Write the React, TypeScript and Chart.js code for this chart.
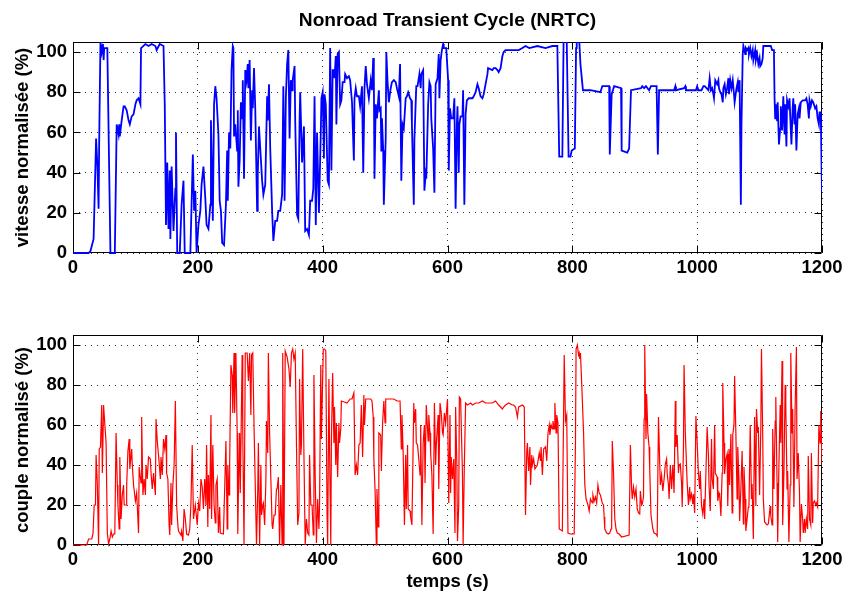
import React, { useEffect, useRef } from "react";
import { Chart, registerables } from "chart.js";
Chart.register(...registerables);

const chartTitle = "Nonroad Transient Cycle (NRTC)";
const speedLabel = "vitesse normalisée (%)";
const torqueLabel = "couple normalisé (%)";
const timeLabel = "temps (s)";
const xTicks = [0, 200, 400, 600, 800, 1000, 1200];
const yTicks = [0, 20, 40, 60, 80, 100];

const speedTime = [
  0, 25, 28, 33, 37, 39, 41, 42, 44, 46, 48, 49,
  50, 55, 60, 67, 70, 73, 74, 75, 78, 81, 83, 86,
  89, 91, 94, 97, 100, 102, 105, 108, 109, 116, 121, 126,
  132, 134, 139, 145, 147, 149, 151, 153, 155, 156, 158, 161,
  164, 165, 167, 171, 174, 177, 179, 188, 192, 194, 196, 198,
  201, 204, 206, 209, 212, 214, 217, 220, 221, 224, 226, 228,
  230, 233, 235, 237, 239, 242, 245, 247, 248, 250, 252, 254,
  256, 257, 258, 260, 263, 264, 265, 267, 269, 271, 272, 274,
  276, 278, 280, 281, 283, 285, 287, 288, 290, 292, 295, 296,
  298, 300, 303, 305, 308, 311, 312, 314, 316, 319, 321, 324,
  327, 329, 332, 335, 337, 339, 341, 343, 345, 347, 349, 351,
  352, 355, 356, 359, 361, 363, 364, 367, 370, 372, 375, 378,
  380, 383, 385, 387, 389, 391, 394, 397, 398, 400, 402, 403,
  405, 408, 410, 412, 414, 416, 418, 419, 421, 422, 424, 426,
  428, 430, 432, 435, 436, 439, 442, 444, 447, 450, 451, 453,
  455, 458, 460, 463, 465, 467, 469, 471, 474, 477, 479, 481,
  482, 483, 485, 487, 490, 491, 493, 494, 495, 497, 498, 501,
  502, 504, 506, 509, 511, 514, 517, 519, 522, 524, 526, 528,
  530, 533, 535, 537, 540, 542, 543, 546, 547, 550, 552, 555,
  557, 558, 561, 563, 565, 566, 569, 571, 573, 574, 577, 579,
  581, 584, 586, 587, 589, 591, 593, 594, 598, 601, 602, 604,
  606, 609, 611, 613, 615, 616, 618, 619, 621, 624, 625, 627,
  629, 631, 634, 640, 642, 645, 648, 650, 653, 656, 658, 661,
  664, 665, 672, 674, 677, 680, 682, 685, 688, 690, 693, 698,
  704, 709, 714, 720, 725, 731, 744, 757, 768, 776, 779, 784,
  786, 791, 794, 797, 799, 804, 806, 807, 811, 813, 817, 824,
  829, 845, 848, 859, 860, 863, 865, 867, 878, 879, 888, 891,
  894, 910, 912, 915, 918, 923, 926, 935, 937, 939, 963, 965,
  966, 979, 981, 982, 998, 1000, 1002, 1007, 1010, 1012, 1015, 1018,
  1020, 1022, 1024, 1026, 1027, 1029, 1032, 1034, 1035, 1037, 1039, 1041,
  1042, 1044, 1046, 1048, 1050, 1051, 1053, 1055, 1057, 1059, 1060, 1063,
  1065, 1066, 1068, 1070, 1071, 1073, 1074, 1077, 1078, 1080, 1082, 1083,
  1085, 1087, 1089, 1090, 1093, 1094, 1096, 1098, 1100, 1101, 1103, 1105,
  1106, 1118, 1120, 1123, 1124, 1125, 1126, 1128, 1129, 1131, 1133, 1134,
  1136, 1138, 1140, 1141, 1143, 1144, 1146, 1148, 1149, 1151, 1153, 1154,
  1156, 1157, 1159, 1161, 1163, 1164, 1166, 1169, 1173, 1175, 1177, 1179,
  1180, 1182, 1184, 1186, 1189, 1191, 1193, 1195, 1196, 1198, 1200,
];
const speedValue = [
  0, 0, 1, 7, 57, 44, 22, 57, 105, 100, 104, 96,
  102, 102, 0, 0, 64, 59, 64, 58, 66, 73, 73, 71,
  66, 64, 68, 69, 74, 76, 77, 74, 102, 104, 103, 104,
  103, 101, 104, 103, 74, 14, 45, 12, 41, 7, 43, 11,
  32, 60, 0, 0, 24, 36, 0, 0, 49, 21, 31, 0,
  14, 21, 34, 43, 27, 14, 12, 24, 66, 16, 74, 83,
  77, 59, 26, 21, 5, 4, 24, 51, 26, 60, 52, 91,
  103, 102, 58, 64, 51, 71, 33, 46, 75, 67, 86, 37,
  91, 86, 94, 82, 96, 56, 81, 72, 92, 72, 21, 39,
  63, 52, 36, 29, 34, 78, 66, 84, 52, 21, 6, 16,
  16, 21, 21, 29, 83, 26, 77, 94, 101, 57, 86, 81,
  86, 93, 66, 19, 17, 66, 80, 45, 63, 11, 12, 9,
  26, 26, 32, 78, 14, 60, 20, 60, 77, 80, 47, 79,
  74, 36, 34, 102, 41, 91, 91, 87, 98, 64, 99, 100,
  74, 76, 85, 85, 89, 87, 88, 86, 75, 46, 77, 82,
  78, 78, 73, 83, 40, 82, 93, 84, 77, 86, 81, 97,
  87, 37, 74, 67, 81, 71, 72, 51, 67, 51, 24, 57,
  100, 85, 75, 82, 85, 86, 85, 82, 78, 94, 36, 64,
  62, 77, 78, 80, 77, 76, 64, 24, 57, 83, 83, 89,
  82, 89, 91, 31, 39, 37, 74, 85, 83, 67, 52, 30,
  84, 87, 99, 77, 96, 101, 104, 102, 102, 86, 41, 72,
  67, 67, 77, 22, 64, 73, 40, 64, 68, 68, 81, 24,
  69, 76, 77, 77, 78, 80, 84, 82, 78, 77, 79, 84,
  89, 92, 91, 92, 92, 91, 90, 92, 98, 100, 101, 101,
  101, 101, 101, 102, 103, 102, 103, 102, 103, 103, 48, 48,
  106, 106, 48, 48, 51, 52, 102, 106, 106, 94, 81, 81,
  81, 80, 83, 83, 49, 79, 81, 83, 82, 51, 50, 52,
  81, 82, 83, 82, 83, 81, 83, 83, 49, 81, 81, 83,
  81, 82, 83, 81, 81, 83, 81, 81, 83, 83, 82, 81,
  87, 81, 82, 79, 77, 86, 84, 86, 82, 80, 79, 75,
  82, 84, 79, 82, 87, 79, 86, 82, 86, 79, 75, 82,
  85, 80, 86, 24, 64, 99, 103, 99, 102, 101, 102, 99,
  102, 98, 101, 96, 101, 96, 99, 94, 97, 93, 94, 97,
  103, 103, 101, 101, 77, 67, 74, 66, 75, 54, 62, 73,
  61, 78, 59, 74, 53, 76, 73, 77, 69, 54, 72, 77,
  64, 74, 51, 69, 72, 67, 75, 76, 76, 77, 74, 67,
  76, 73, 76, 75, 72, 73, 67, 64, 70, 70, 30,
];

const torqueTime = [
  0, 22, 25, 30, 32, 34, 36, 37, 39, 41, 42, 44,
  46, 47, 49, 50, 53, 55, 57, 59, 61, 63, 65, 67,
  69, 71, 72, 74, 75, 77, 79, 81, 82, 85, 86, 88,
  90, 91, 94, 95, 97, 100, 102, 105, 106, 109, 110, 112,
  114, 116, 117, 119, 121, 124, 125, 127, 129, 132, 133, 135,
  137, 140, 141, 143, 145, 147, 149, 150, 152, 154, 155, 157,
  158, 160, 162, 164, 166, 168, 169, 173, 174, 176, 178, 180,
  182, 185, 187, 189, 191, 193, 196, 199, 201, 203, 205, 207,
  209, 211, 213, 214, 216, 217, 219, 221, 222, 224, 226, 228,
  229, 231, 233, 235, 236, 241, 243, 245, 247, 248, 250, 251,
  253, 255, 256, 258, 259, 261, 263, 264, 265, 267, 268, 271,
  272, 274, 276, 279, 281, 283, 285, 286, 288, 290, 291, 294,
  296, 297, 299, 301, 302, 304, 305, 307, 309, 310, 312, 313,
  315, 317, 319, 320, 322, 324, 326, 327, 329, 331, 333, 335,
  336, 338, 340, 343, 346, 348, 350, 352, 354, 356, 358, 360,
  362, 363, 365, 366, 368, 370, 372, 374, 376, 378, 379, 381,
  383, 385, 386, 388, 390, 392, 394, 395, 397, 398, 401, 403,
  405, 407, 408, 410, 411, 413, 414, 416, 418, 419, 421, 422,
  424, 426, 427, 429, 430, 439, 444, 447, 450, 452, 454, 456,
  458, 460, 462, 464, 466, 467, 469, 477, 479, 481, 482, 484,
  486, 487, 489, 490, 493, 494, 496, 498, 500, 501, 514, 519,
  524, 526, 527, 529, 531, 533, 534, 536, 537, 540, 541, 543,
  546, 547, 549, 550, 552, 554, 556, 557, 559, 561, 563, 564,
  566, 569, 570, 572, 573, 575, 577, 579, 581, 582, 585, 586,
  588, 590, 592, 593, 595, 597, 598, 600, 602, 604, 605, 606,
  608, 610, 612, 613, 615, 616, 618, 619, 621, 624, 625, 627,
  629, 632, 637, 640, 645, 650, 656, 661, 666, 672, 677, 682,
  688, 690, 693, 698, 704, 706, 709, 712, 714, 720, 723, 725,
  727, 728, 730, 732, 733, 735, 736, 738, 740, 744, 747, 749,
  750, 752, 754, 757, 759, 761, 763, 764, 766, 768, 769, 771,
  772, 774, 775, 777, 779, 784, 786, 787, 789, 791, 793, 797,
  803, 805, 806, 808, 810, 811, 812, 813, 815, 818, 820, 822,
  825, 827, 829, 832, 833, 835, 837, 839, 841, 843, 845, 848,
  850, 851, 852, 855, 858, 860, 862, 863, 864, 866, 868, 870,
  872, 875, 879, 891, 893, 895, 896, 898, 900, 902, 904, 906,
  908, 909, 911, 912, 914, 915, 916, 918, 919, 921, 923, 924,
  926, 929, 931, 934, 936, 938, 940, 941, 943, 945, 947, 949,
  951, 952, 954, 955, 957, 959, 961, 963, 965, 966, 968, 970,
  971, 973, 975, 976, 978, 979, 981, 984, 986, 988, 989, 991,
  993, 994, 996, 998, 1000, 1002, 1004, 1005, 1007, 1009, 1011, 1012,
  1014, 1016, 1018, 1019, 1021, 1023, 1024, 1026, 1028, 1029, 1032, 1033,
  1035, 1036, 1038, 1040, 1041, 1043, 1044, 1046, 1048, 1049, 1051, 1052,
  1054, 1056, 1057, 1059, 1060, 1062, 1064, 1065, 1067, 1068, 1070, 1072,
  1074, 1075, 1077, 1078, 1080, 1082, 1083, 1085, 1087, 1088, 1090, 1092,
  1094, 1095, 1097, 1098, 1100, 1102, 1103, 1105, 1106, 1108, 1112, 1114,
  1117, 1118, 1120, 1121, 1123, 1125, 1126, 1128, 1129, 1131, 1133, 1134,
  1136, 1137, 1139, 1141, 1142, 1144, 1145, 1147, 1149, 1150, 1152, 1153,
  1155, 1157, 1159, 1160, 1162, 1164, 1165, 1167, 1169, 1170, 1172, 1173,
  1175, 1177, 1178, 1180, 1182, 1183, 1185, 1186, 1188, 1190, 1191, 1193,
  1195, 1197, 1198, 1200,
];
const torqueValue = [
  0, 0, 3, 3, 5.5, 20, 20, 45, 30, 0, 48, 49,
  70, 36, 70, 65, 51, 6, 0.5, 3, 7, 4, 5.5, 5.5,
  56, 30, 20, 8, 44, 13, 25, 30, 20, 20, 30, 47,
  53, 38, 48, 40, 30, 22, 26, 6, 39, 31, 64, 25,
  33, 25, 40, 33, 44, 43, 36, 28, 36, 25, 63, 52,
  45, 33, 44, 35, 53, 48, 55, 36, 33, 10, 5, 31,
  10, 30, 40, 72, 20, 10, 7, 5, 7, 2, 18, 13,
  5.5, 5, 8, 21, 50, 13, 20, 10, 21, 17, 33, 29,
  18, 33, 20, 50, 9, 35, 18, 65, 13, 50, 20, 11,
  30, 33, 6, 19, 6, 5.5, 28, 52, 8, 40, 25, 41,
  90, 85, 66, 96, 66, 96, 56, 5.5, 26, 56, 26, 95,
  56, 0, 96, 96, 82, 96, 65, 95, 96, 60, 60, 0,
  28, 51, 0, 40, 15, 20, 21, 10, 32, 62, 46, 96,
  56, 33, 10, 8, 15, 15, 28, 28, 34, 0, 30, 0,
  96, 0, 97, 94, 88, 79, 96, 98, 93, 96, 51, 10,
  16, 83, 45, 50, 98, 45, 0, 13, 6, 5, 45, 20,
  20, 5, 85, 35, 1, 23, 8, 20, 90, 53, 98, 98,
  97, 16, 0, 83, 50, 0, 53, 86, 51, 69, 40, 61,
  34, 61, 51, 58, 72, 71, 73, 73, 76, 35, 40, 35,
  50, 51, 70, 44, 75, 60, 73, 73, 72, 64, 43, 27,
  0, 28, 9, 56, 55, 37, 61, 72, 61, 73, 73, 72,
  72, 48, 65, 46, 10, 45, 18, 50, 18, 17, 14, 10,
  71, 61, 68, 51, 50, 43, 35, 60, 10, 51, 60, 31,
  70, 52, 65, 56, 46, 35, 5.5, 71, 40, 50, 65, 28,
  71, 66, 56, 55, 66, 61, 65, 73, 21, 65, 26, 44,
  33, 43, 6, 69, 40, 2, 20, 74, 73, 35, 0, 40,
  71, 70, 71, 70, 71, 71, 72, 71, 71, 71, 72, 70,
  68, 69, 70, 71, 70, 70, 69, 64, 69, 70, 69, 15,
  47, 51, 37, 49, 30, 45, 40, 43, 38, 40, 46, 42,
  49, 35, 48, 49, 42, 56, 60, 55, 60, 58, 62, 58,
  71, 56, 65, 61, 8, 7, 66, 95, 62, 65, 6, 5.5,
  5.5, 51, 98, 100, 95, 96, 93, 96, 81, 56, 30, 23,
  20, 17, 23, 21, 25, 22, 24, 21, 30, 26, 25, 21,
  20, 14, 8, 6, 5.5, 6, 8, 11, 52, 36, 13, 8,
  6, 5.5, 4, 5, 50, 28, 23, 29, 24, 28, 18, 16,
  15.5, 27, 20, 20.5, 24, 63, 100, 53, 75.5, 56, 49, 38,
  15, 8, 6, 5.5, 4.5, 64, 41, 30, 35, 27, 33, 40.5,
  43, 35.5, 30, 23, 40, 28, 40, 26, 72, 49, 55, 36,
  40, 40.5, 31, 19, 48, 90, 56, 31, 20, 29, 23, 25.5,
  20.5, 25.5, 16, 64.5, 51, 36, 28, 37, 19.5, 15.5, 23, 13,
  36, 59, 45, 30, 17, 53, 33, 28, 60, 36, 34, 22,
  26, 25, 14.5, 36, 81, 51, 35.5, 43, 45.5, 19.5, 48, 30,
  55.5, 16, 55, 60, 84.5, 56, 23, 49, 33, 12, 28, 47,
  10.5, 39, 23, 7, 13, 19, 19.5, 60, 23, 30.5, 3, 64,
  19.5, 68, 56, 59, 25, 59, 98, 56, 23, 11.5, 10, 10.5,
  19.5, 14.5, 10, 58, 28, 62, 74, 31, 1.5, 40, 70, 51,
  92, 10, 36, 80, 70, 28, 37, 1.5, 30, 96, 56, 68,
  19, 70, 99, 33, 46, 25.5, 1.5, 20.5, 13, 6, 13, 6,
  13, 8, 44.5, 13, 10, 46, 11, 21, 22, 20, 21, 19,
  60, 51, 67, 40,
];

const FONT_FAMILY = "'Liberation Sans', Arial, Helvetica, sans-serif";
const FONT_SIZE = 18.5;
const TITLE_SIZE = 19.2;
const TOP_H = 290;
const BOT_H = 305;

const frameTicks = {
  id: "frameTicks",
  beforeDatasetsDraw(chart: any) {
    const { ctx, chartArea: a, scales } = chart;
    const L = Math.round(a.left) + 0.5;
    const R = Math.round(a.right) - 0.5;
    const T = Math.round(a.top) + 0.5;
    const B = Math.round(a.bottom) - 0.5;
    const len = 7;
    ctx.save();
    ctx.strokeStyle = "#000";
    ctx.lineWidth = 1;
    ctx.setLineDash([]);
    ctx.beginPath();
    ctx.rect(L, T, R - L, B - T);
    for (const v of xTicks) {
      const x = Math.round(scales.x.getPixelForValue(v)) + 0.5;
      ctx.moveTo(x, B);
      ctx.lineTo(x, B - len);
      ctx.moveTo(x, T);
      ctx.lineTo(x, T + len);
    }
    for (const v of yTicks) {
      const y = Math.round(scales.y.getPixelForValue(v)) + 0.5;
      ctx.moveTo(L, y);
      ctx.lineTo(L + len, y);
      ctx.moveTo(R, y);
      ctx.lineTo(R - len, y);
    }
    ctx.stroke();
    ctx.restore();
  },
};

function buildConfig(
  times: number[],
  values: number[],
  color: string,
  lineWidth: number,
  yLabel: string,
  withTitle: boolean,
  withXLabel: boolean,
  canvasH: number,
  areaTop: number,
  areaBottom: number
): any {
  const font = { family: FONT_FAMILY, size: FONT_SIZE, weight: "bold" as const };
  const titleFont = { family: FONT_FAMILY, size: TITLE_SIZE, weight: "bold" as const };
  const n = Math.min(times.length, values.length);
  const points = [] as { x: number; y: number }[];
  for (let i = 0; i < n; i++) points.push({ x: times[i], y: values[i] });
  const titleLH = TITLE_SIZE * 1.2;
  const titleTop = 21 - titleLH / 2;
  return {
    type: "line",
    data: {
      datasets: [
        {
          data: points,
          borderColor: color,
          borderWidth: lineWidth,
          pointRadius: 0,
          tension: 0,
          fill: false,
          clip: { left: 0, top: 0, right: 0, bottom: 2 },
        },
      ],
    },
    options: {
      responsive: false,
      animation: false,
      events: [],
      layout: { padding: { left: 0, right: 22, top: withTitle ? 0 : areaTop, bottom: 0 } },
      plugins: {
        legend: { display: false },
        tooltip: { enabled: false },
        title: {
          display: withTitle,
          text: chartTitle,
          font: titleFont,
          color: "#000",
          fullSize: false,
          padding: { top: titleTop, bottom: areaTop - titleTop - titleLH },
        },
      },
      scales: {
        x: {
          type: "linear",
          min: 0,
          max: 1200,
          afterBuildTicks: (s: any) => {
            s.ticks = xTicks.map((v) => ({ value: v }));
          },
          afterFit: (s: any) => {
            s.height = canvasH - areaBottom;
            s.paddingLeft = 0;
            s.paddingRight = 0;
          },
          ticks: {
            font,
            color: "#000",
            padding: 4,
            maxRotation: 0,
            autoSkip: false,
            callback: (v: any) => String(v),
          },
          grid: { color: "#333", lineWidth: 1, drawTicks: false },
          border: { display: false, dash: [1, 5] },
          title: {
            display: withXLabel,
            text: timeLabel,
            font,
            color: "#000",
            padding: { top: 0, bottom: 1.9 },
          },
        },
        y: {
          type: "linear",
          min: 0,
          max: 105,
          afterBuildTicks: (s: any) => {
            s.ticks = yTicks.map((v) => ({ value: v }));
          },
          afterFit: (s: any) => {
            s.width = 73;
            s.paddingTop = 0;
            s.paddingBottom = 0;
          },
          ticks: {
            font,
            color: "#000",
            padding: 6,
            autoSkip: false,
            callback: (v: any) => String(v),
          },
          grid: { color: "#333", lineWidth: 1, drawTicks: false },
          border: { display: false, dash: [1, 5] },
          title: {
            display: true,
            text: yLabel,
            font,
            color: "#000",
            padding: { top: 12, bottom: 0 },
          },
        },
      },
    },
    plugins: [frameTicks],
  };
}

export default function App() {
  const topRef = useRef<HTMLCanvasElement>(null);
  const botRef = useRef<HTMLCanvasElement>(null);

  useEffect(() => {
    document.body.style.margin = "0";
    const c1 = new Chart(
      topRef.current as HTMLCanvasElement,
      buildConfig(speedTime, speedValue, "#0000ff", 1.8, speedLabel, true, false, TOP_H, 42, 253)
    );
    const c2 = new Chart(
      botRef.current as HTMLCanvasElement,
      buildConfig(torqueTime, torqueValue, "#ff0000", 1.2, torqueLabel, false, true, BOT_H, 45, 255)
    );
    return () => {
      c1.destroy();
      c2.destroy();
    };
  }, []);

  return (
    <div style={{ position: "relative", width: 844, height: 595, background: "#fff" }}>
      <canvas
        ref={topRef}
        width={844}
        height={TOP_H}
        style={{ position: "absolute", left: 0, top: 0, width: 844, height: TOP_H }}
      />
      <canvas
        ref={botRef}
        width={844}
        height={BOT_H}
        style={{ position: "absolute", left: 0, top: TOP_H, width: 844, height: BOT_H }}
      />
    </div>
  );
}
